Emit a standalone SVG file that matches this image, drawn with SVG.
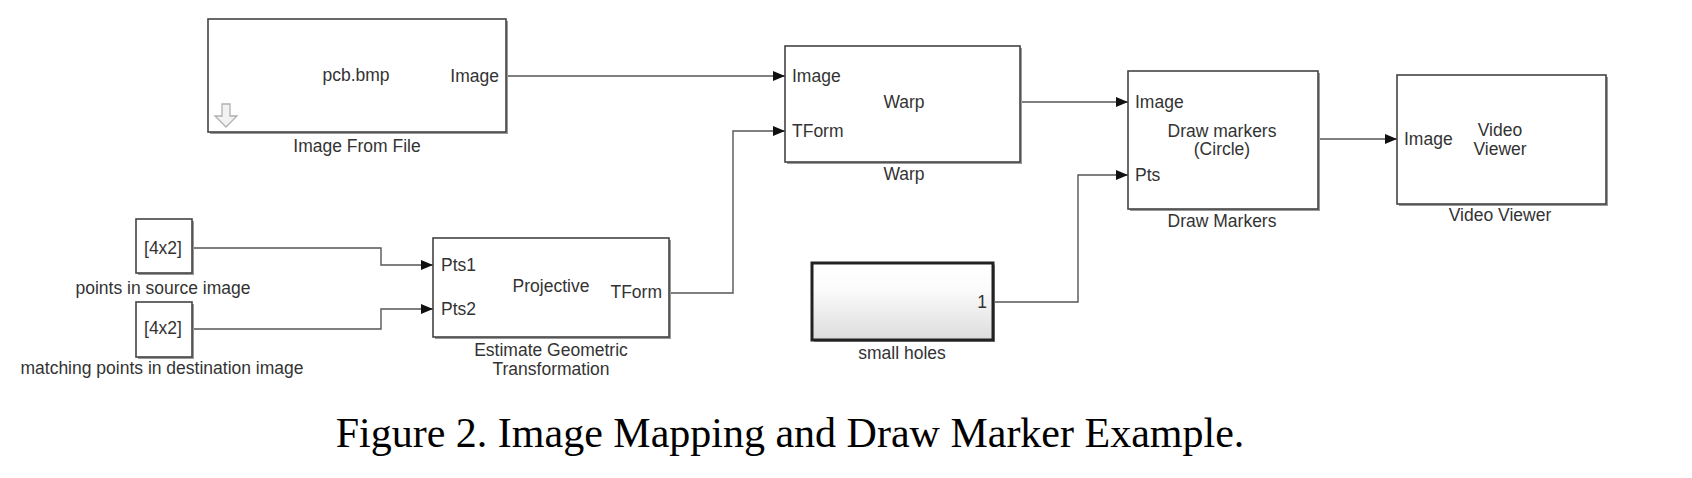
<svg xmlns="http://www.w3.org/2000/svg" width="1692" height="478" viewBox="0 0 1692 478">
  <style>
    .blk { fill: #ffffff; stroke: #444444; stroke-width: 1.6; }
    .shd { fill: #9a9a9a; stroke: none; }
    .t { font-family: "Liberation Sans", Arial, sans-serif; font-size: 17.5px; fill: #333333; }
    .m { text-anchor: middle; }
    .e { text-anchor: end; }
    .wire { fill: none; stroke: #555555; stroke-width: 1.4; }
    .cap { font-family: "Liberation Serif", "Times New Roman", serif; font-size: 42px; fill: #000000; text-anchor: middle; }
  </style>
  <defs>
    <marker id="arr" viewBox="0 0 12 10" refX="12" refY="5" markerWidth="12" markerHeight="10" markerUnits="userSpaceOnUse" orient="auto">
      <path d="M0,0 L12,5 L0,10 z" fill="#111111"/>
    </marker>
    <linearGradient id="holesGrad" x1="0" y1="0" x2="0" y2="1">
      <stop offset="0" stop-color="#ffffff"/>
      <stop offset="0.35" stop-color="#fbfbfb"/>
      <stop offset="1" stop-color="#dcdcdc"/>
    </linearGradient>
  </defs>
  <rect width="1692" height="478" fill="#ffffff"/>

  <g id="connectors">
    <path class="wire" d="M506,76 H785" marker-end="url(#arr)"/>
    <path class="wire" d="M192,248 H381 V265 H433" marker-end="url(#arr)"/>
    <path class="wire" d="M192,329 H381 V309 H433" marker-end="url(#arr)"/>
    <path class="wire" d="M669,293 H733 V131 H785" marker-end="url(#arr)"/>
    <path class="wire" d="M1020,102 H1128" marker-end="url(#arr)"/>
    <path class="wire" d="M993,302 H1078 V175 H1128" marker-end="url(#arr)"/>
    <path class="wire" d="M1318,139 H1397" marker-end="url(#arr)"/>
  </g>

  <g id="image-from-file">
    <rect class="shd" x="210" y="21" width="298" height="113"/>
    <rect class="blk" x="208" y="19" width="298" height="113"/>
    <text class="t m" x="356" y="81">pcb.bmp</text>
    <text class="t e" x="499" y="82">Image</text>
    <path d="M222,104 H230 V116 H237 L226,127 L215,116 H222 Z" fill="#f2f2f2" stroke="#b0b0b0" stroke-width="1.3"/>
    <text class="t m" x="357" y="152">Image From File</text>
  </g>

  <g id="points-source">
    <rect class="shd" x="138" y="221" width="56" height="54"/>
    <rect class="blk" x="136" y="219" width="56" height="54"/>
    <text class="t m" x="163" y="254">[4x2]</text>
    <text class="t m" x="163" y="294">points in source image</text>
  </g>

  <g id="points-destination">
    <rect class="shd" x="138" y="304" width="56" height="55"/>
    <rect class="blk" x="136" y="302" width="56" height="55"/>
    <text class="t m" x="163" y="334">[4x2]</text>
    <text class="t m" x="162" y="374">matching points in destination image</text>
  </g>

  <g id="estimate-geometric-transformation">
    <rect class="shd" x="435" y="240" width="236" height="99"/>
    <rect class="blk" x="433" y="238" width="236" height="99"/>
    <text class="t" x="441" y="271">Pts1</text>
    <text class="t" x="441" y="315">Pts2</text>
    <text class="t m" x="551" y="292">Projective</text>
    <text class="t e" x="662" y="298">TForm</text>
    <text class="t m" x="551" y="356">Estimate Geometric</text>
    <text class="t m" x="551" y="375">Transformation</text>
  </g>

  <g id="warp">
    <rect class="shd" x="787" y="48" width="235" height="116"/>
    <rect class="blk" x="785" y="46" width="235" height="116"/>
    <text class="t" x="792" y="82">Image</text>
    <text class="t" x="792" y="137">TForm</text>
    <text class="t m" x="904" y="108">Warp</text>
    <text class="t m" x="904" y="180">Warp</text>
  </g>

  <g id="small-holes">
    <rect class="shd" x="814" y="265" width="181" height="77"/>
    <rect x="812" y="263" width="181" height="77" fill="url(#holesGrad)" stroke="#222222" stroke-width="3"/>
    <text class="t e" x="987" y="308">1</text>
    <text class="t m" x="902" y="359">small holes</text>
  </g>

  <g id="draw-markers">
    <rect class="shd" x="1130" y="73" width="190" height="138"/>
    <rect class="blk" x="1128" y="71" width="190" height="138"/>
    <text class="t" x="1135" y="108">Image</text>
    <text class="t" x="1135" y="181">Pts</text>
    <text class="t m" x="1222" y="137">Draw markers</text>
    <text class="t m" x="1222" y="155">(Circle)</text>
    <text class="t m" x="1222" y="227">Draw Markers</text>
  </g>

  <g id="video-viewer">
    <rect class="shd" x="1399" y="77" width="209" height="129"/>
    <rect class="blk" x="1397" y="75" width="209" height="129"/>
    <text class="t" x="1404" y="145">Image</text>
    <text class="t m" x="1500" y="136">Video</text>
    <text class="t m" x="1500" y="155">Viewer</text>
    <text class="t m" x="1500" y="221">Video Viewer</text>
  </g>

  <text class="cap" x="790" y="447">Figure 2. Image Mapping and Draw Marker Example.</text>
</svg>
